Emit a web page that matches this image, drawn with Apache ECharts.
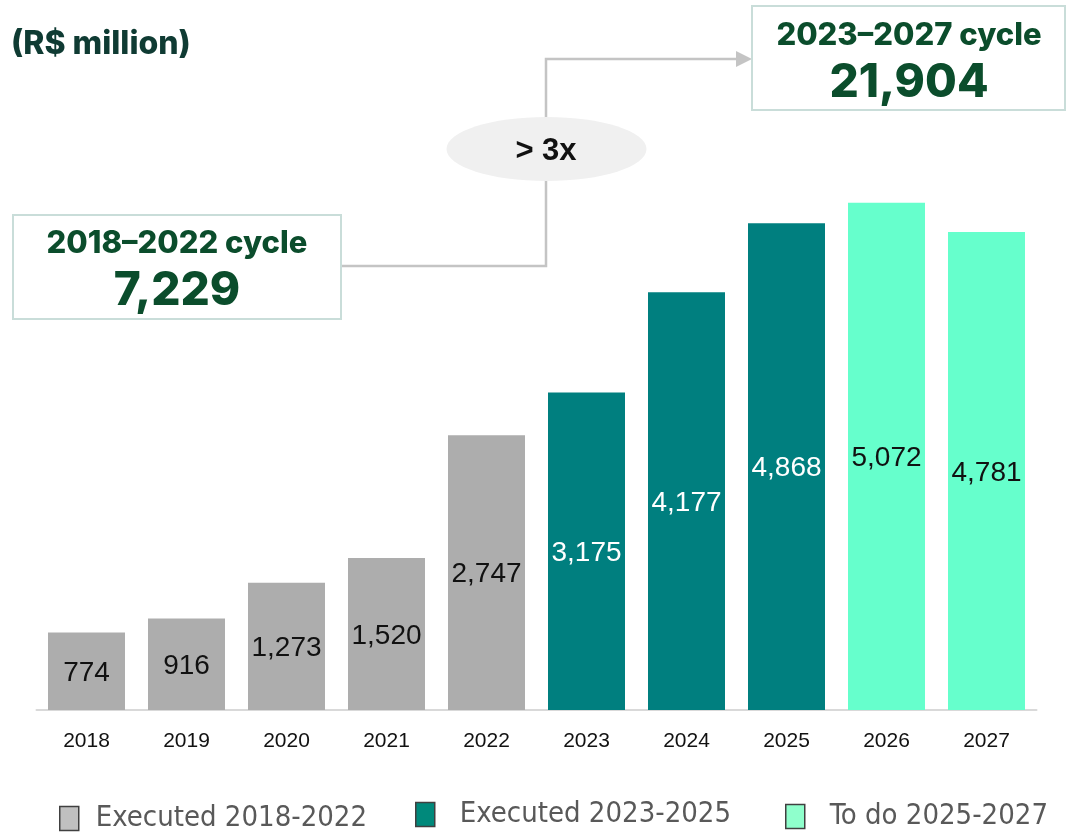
<!DOCTYPE html>
<html>
<head>
<meta charset="utf-8">
<script src="https://cdn.jsdelivr.net/npm/echarts@6/dist/echarts.min.js"></script>
<style>html,body{margin:0;padding:0;background:#fff;}#c{width:1068px;height:832px;}</style>
</head>
<body>
<div id="c"></div>
<script>
const categories = ['2018','2019','2020','2021','2022','2023','2024','2025','2026','2027'];
const executed1822 = [774, 916, 1273, 1520, 2747, '-', '-', '-', '-', '-'];
const executed2325 = ['-', '-', '-', '-', '-', 3175, 4177, 4868, '-', '-'];
const todo2527 = ['-', '-', '-', '-', '-', '-', '-', '-', 5072, 4781];
const seriesNames = ['Executed 2018-2022', 'Executed 2023-2025', 'To do 2025-2027'];
const cycleTitles = ['2018\u20132022 cycle', '2023\u20132027 cycle'];
const cycleTotals = ['7,229', '21,904'];
const unitTitle = '(R$ million)';
const multiplierText = '> 3x';

const fmt = p => Number(p.value).toLocaleString('en-US');
const labelFont = 'Liberation Sans, Arial, sans-serif';
const numFont = 'Inter, Lato, sans-serif';
const legendFont = 'Liberation Sans Narrow, DejaVu Sans Condensed, sans-serif';

const chart = echarts.init(document.getElementById('c'));
function mkSeries(name, data, color, labelColor) {
  return {
    name, type: 'bar', stack: 'all', data, barWidth: 77,
    itemStyle: { color },
    label: { show: true, position: 'inside', formatter: fmt, color: labelColor,
      fontSize: 28, fontFamily: labelFont, offset: [0, 2] },
    emphasis: { disabled: true }
  };
}
function mkLegend(i, left, top, color, gap) {
  return {
    data: [{ name: seriesNames[i], itemStyle: { color, borderColor: '#404040', borderWidth: 1.5 } }],
    left, top, padding: 0, icon: 'rect', itemWidth: 19, itemHeight: 24, selectedMode: false,
    textStyle: { fontSize: 29, color: '#595959', fontFamily: legendFont, padding: [0, 0, 0, gap] }
  };
}
chart.setOption({
  animation: false,
  grid: { left: 36.5, right: 31.5, top: 10, bottom: 122 },
  xAxis: {
    type: 'category', data: categories,
    axisLine: { lineStyle: { color: '#d9d9d9', width: 2 } },
    axisTick: { show: false },
    axisLabel: { color: '#111', fontSize: 21, fontFamily: labelFont, margin: 21 }
  },
  yAxis: { type: 'value', min: 0, max: 7000, show: false, splitLine: { show: false } },
  legend: [
    mkLegend(0, 59, 804, '#c0c0c0', 12),
    mkLegend(1, 415, 800, '#00897b', 20),
    mkLegend(2, 785, 802, '#8fffcc', 20)
  ],
  series: [
    mkSeries(seriesNames[0], executed1822, '#adadad', '#111'),
    mkSeries(seriesNames[1], executed2325, '#007f7f', '#fff'),
    mkSeries(seriesNames[2], todo2527, '#66ffcc', '#111')
  ],
  graphic: [
    { type: 'text', x: 11, y: 44, style: { text: unitTitle, font: '800 32px ' + numFont, fill: '#0f3b33', verticalAlign: 'middle' } },
    { type: 'polyline', shape: { points: [[341, 266], [546, 266], [546, 59], [738, 59]] },
      style: { stroke: '#c4c4c4', lineWidth: 2.5, fill: null } },
    { type: 'polygon', shape: { points: [[736, 51], [752, 59], [736, 67]] }, style: { fill: '#c4c4c4' } },
    { type: 'ellipse', shape: { cx: 546.5, cy: 149, rx: 100, ry: 32 }, style: { fill: '#f0f0f0' } },
    { type: 'text', x: 546, y: 151, style: { text: multiplierText, font: 'bold 31px ' + labelFont, fill: '#111', align: 'center', verticalAlign: 'middle' } },
    { type: 'rect', shape: { x: 13, y: 215, width: 328, height: 104 }, style: { fill: '#fff', stroke: '#c9ddd9', lineWidth: 2 } },
    { type: 'text', x: 177, y: 244, style: { text: cycleTitles[0], font: '800 31px ' + numFont, fill: '#0b4d2c', align: 'center', verticalAlign: 'middle' } },
    { type: 'text', x: 177, y: 291, style: { text: cycleTotals[0], font: '800 46px ' + numFont, fill: '#0b4d2c', align: 'center', verticalAlign: 'middle' } },
    { type: 'rect', shape: { x: 752, y: 6, width: 313, height: 104 }, style: { fill: '#fff', stroke: '#c9ddd9', lineWidth: 2 } },
    { type: 'text', x: 909, y: 36, style: { text: cycleTitles[1], font: '800 31px ' + numFont, fill: '#0b4d2c', align: 'center', verticalAlign: 'middle' } },
    { type: 'text', x: 909, y: 83, style: { text: cycleTotals[1], font: '800 46px ' + numFont, fill: '#0b4d2c', align: 'center', verticalAlign: 'middle' } }
  ]
});
</script>
</body>
</html>
